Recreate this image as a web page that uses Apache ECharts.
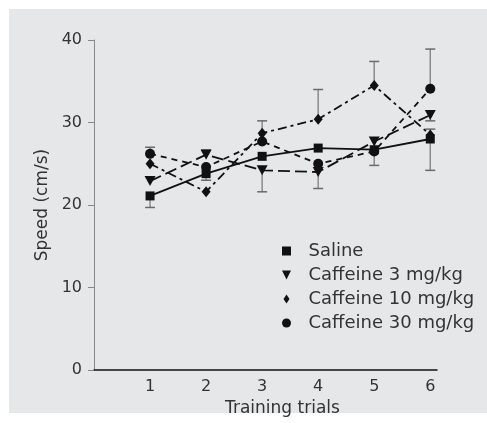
<!DOCTYPE html>
<html><head><meta charset="utf-8">
<script src="https://cdn.jsdelivr.net/npm/echarts@6/dist/echarts.min.js"></script>
<style>html,body{margin:0;padding:0;background:#fff}#c{width:487px;height:423px}</style>
</head><body><div id="c"></div>
<script>
var trials = [1, 2, 3, 4, 5, 6];
var yTicks = [0, 10, 20, 30, 40];
var seriesNames = ['Saline', 'Caffeine 3 mg/kg', 'Caffeine 10 mg/kg', 'Caffeine 30 mg/kg'];
var saline = [21.1, 23.8, 25.9, 26.9, 26.7, 28.0];
var caf3   = [22.9, 26.1, 24.2, 24.0, 27.7, 30.9];
var caf10  = [25.0, 21.6, 28.7, 30.4, 34.5, 28.5];
var caf30  = [26.2, 24.6, 27.7, 25.0, 26.5, 34.1];
// one-sided error bars (upper / lower extents)
var salineHi = [0, 0, 0, 0, 0, 0];
var salineLo = [1.4, 0.8, 0, 0, 0, 3.8];
var caf3Hi   = [0, 0.6, 0, 0, 0, 0];
var caf3Lo   = [0, 0, 2.6, 2.0, 0, 0.7];
var caf10Hi  = [0, 0, 1.5, 3.6, 2.9, 0.7];
var caf10Lo  = [0, 0, 0, 0, 0, 0];
var caf30Hi  = [0.8, 0, 0, 0, 0, 4.8];
var caf30Lo  = [0, 0, 0, 0, 1.7, 0];

var values = [saline, caf3, caf10, caf30];
var his = [salineHi, caf3Hi, caf10Hi, caf30Hi];
var los = [salineLo, caf3Lo, caf10Lo, caf30Lo];
var symbols = ['rect', 'path://M0,0L10,0L5,10Z', 'diamond', 'circle'];
var symSizes = [9, [11, 10], [9, 11], 10];
var dashes = ['solid', [12, 5], [9, 4, 3, 4], [6, 5]];
var legendIcons = ['path://M0,0L10,0L10,10L0,10Z', 'path://M0,0L10,0L5,10Z', 'path://M4,0L8,6L4,12L0,6Z', 'circle'];
var FONT = 'DejaVu Sans';

var series = [];
values.forEach(function (v, i) {
  var ed = trials.map(function (t, j) {
    return [t, v[j], v[j] - los[i][j], v[j] + his[i][j]];
  }).filter(function (d) { return d[2] !== d[3]; });
  series.push({
    type: 'custom', name: seriesNames[i] + ' err', silent: true, z: 1,
    data: ed,
    renderItem: function (params, api) {
      var x = api.value(0), val = api.value(1), lo = api.value(2), hi = api.value(3);
      var pLo = api.coord([x, lo]), pHi = api.coord([x, hi]);
      var w = 5;
      var children = [{
        type: 'line', shape: { x1: pLo[0], y1: pLo[1], x2: pHi[0], y2: pHi[1] },
        style: { stroke: '#8a8a8a', lineWidth: 1.5 }
      }];
      if (hi !== val) children.push({ type: 'line', shape: { x1: pHi[0] - w, y1: pHi[1], x2: pHi[0] + w, y2: pHi[1] }, style: { stroke: '#6a6a6a', lineWidth: 1.5 } });
      if (lo !== val) children.push({ type: 'line', shape: { x1: pLo[0] - w, y1: pLo[1], x2: pLo[0] + w, y2: pLo[1] }, style: { stroke: '#6a6a6a', lineWidth: 1.5 } });
      return { type: 'group', children: children };
    }
  });
});
values.forEach(function (v, i) {
  series.push({
    type: 'line', name: seriesNames[i], z: 3,
    data: trials.map(function (t, j) { return [t, v[j]]; }),
    symbol: symbols[i], symbolSize: symSizes[i], showAllSymbol: true,
    itemStyle: { color: '#111' },
    lineStyle: { color: '#111', width: 1.8, type: dashes[i] }
  });
});

var chart = echarts.init(document.getElementById('c'), null, { renderer: 'canvas' });
chart.setOption({
  backgroundColor: '#ffffff',
  animation: false,
  textStyle: { fontFamily: FONT },
  graphic: [{ type: 'rect', shape: { x: 9, y: 9, width: 478, height: 404 }, style: { fill: '#e6e7e8' }, z: -10 }],
  grid: { left: 94, right: 50, top: 40, bottom: 53 },
  legend: {
    orient: 'vertical', left: 277, top: 237, itemGap: 6, itemWidth: 34, itemHeight: 9,
    data: seriesNames.map(function (n, i) { return { name: n, icon: legendIcons[i] }; }),
    textStyle: { fontSize: 18, color: '#333', fontFamily: FONT },
    itemStyle: { color: '#111' },
    selectedMode: false
  },
  xAxis: {
    type: 'value', min: 0, max: 6.12, interval: 1,
    name: 'Training trials', nameLocation: 'middle', nameGap: 28,
    nameTextStyle: { fontSize: 17, color: '#333', fontFamily: FONT, padding: [0, 0, 0, 34] },
    axisLine: { show: true, lineStyle: { color: '#111', width: 1.5 } },
    axisTick: { show: false },
    splitLine: { show: false },
    axisLabel: {
      fontSize: 16, color: '#333', margin: 9, fontFamily: FONT,
      formatter: function (v) { return trials.indexOf(v) >= 0 ? String(v) : ''; }
    }
  },
  yAxis: {
    type: 'value', min: yTicks[0], max: yTicks[yTicks.length - 1], interval: 10,
    name: 'Speed (cm/s)', nameLocation: 'middle', nameGap: 41,
    nameTextStyle: { fontSize: 17, color: '#333', fontFamily: FONT },
    axisLine: { show: true, lineStyle: { color: '#888', width: 1 } },
    axisTick: { show: true, inside: false, length: 6, lineStyle: { color: '#888' } },
    splitLine: { show: false },
    axisLabel: { fontSize: 16, color: '#333', margin: 12, fontFamily: FONT }
  },
  series: series
});
</script></body></html>
